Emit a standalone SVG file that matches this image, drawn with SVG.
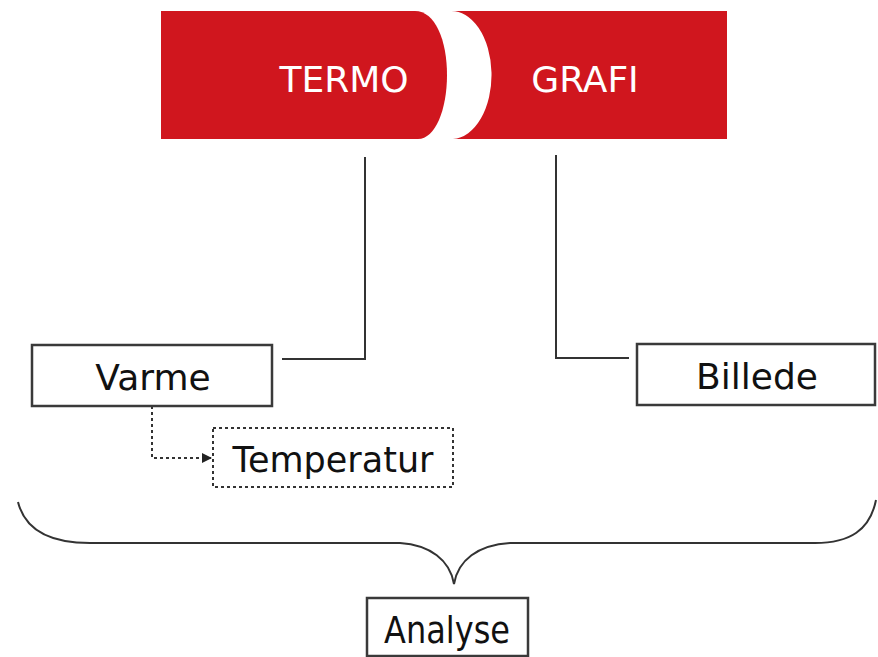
<svg xmlns="http://www.w3.org/2000/svg" width="878" height="657" viewBox="0 0 878 657">
<defs>
<style>
.box{fill:#fff;stroke:#3a3a3a;stroke-width:2.5}
.dbox{fill:#fff;stroke:#333;stroke-width:2;stroke-dasharray:3 3}
.lbl{font-family:"DejaVu Sans","Liberation Sans",sans-serif;font-size:36px;fill:#111;text-anchor:middle}
.ban{font-family:"DejaVu Sans","Liberation Sans",sans-serif;font-size:36px;fill:#fff;text-anchor:middle}
.ln{fill:none;stroke:#333;stroke-width:2}
.dl{fill:none;stroke:#333;stroke-width:2;stroke-dasharray:3 3}
</style>
<marker id="ah" viewBox="0 0 10 10" refX="9" refY="5" markerWidth="5" markerHeight="5" orient="auto">
<path d="M0,0 L10,5 L0,10 Z" fill="#222"/>
</marker>
</defs>
<rect width="878" height="657" fill="#fff"/>
<g id="banner">
<path d="M161,11 H415 C435,11 447,40 447,75 C447,110 435,139 418,139 H161 Z" fill="#d0161e"/>
<path d="M450,11 H727 V139 H453 A40,64 0 0 0 450,11 Z" fill="#d0161e"/>
<text class="ban" x="344" y="92">TERMO</text>
<text class="ban" x="585" y="92">GRAFI</text>
</g>
<g id="connectors">
<path class="ln" d="M365,157 V359 H282"/>
<path class="ln" d="M556,155 V358 H629"/>
<path class="dl" d="M152,406 V458 H211" marker-end="url(#ah)"/>
<path class="ln" d="M18,502 C25,530 50,543 90,543 H400 C430,545 450,560 454,584 C458,560 478,545 510,543 H815 C850,543 870,530 876,500"/>
</g>
<g id="varme">
<rect class="box" x="32" y="345" width="240" height="61"/>
<text class="lbl" x="153" y="390">Varme</text>
</g>
<g id="billede">
<rect class="box" x="637" y="344" width="238" height="61"/>
<text class="lbl" x="757" y="389">Billede</text>
</g>
<g id="temperatur">
<rect class="dbox" x="213" y="428" width="240" height="59"/>
<text class="lbl" x="333" y="472" style="font-size:35px">Temperatur</text>
</g>
<g id="analyse">
<rect class="box" x="367" y="598" width="161" height="58"/>
<text class="lbl" x="447" y="643" style="font-size:38px" textLength="126" lengthAdjust="spacingAndGlyphs">Analyse</text>
</g>
</svg>
